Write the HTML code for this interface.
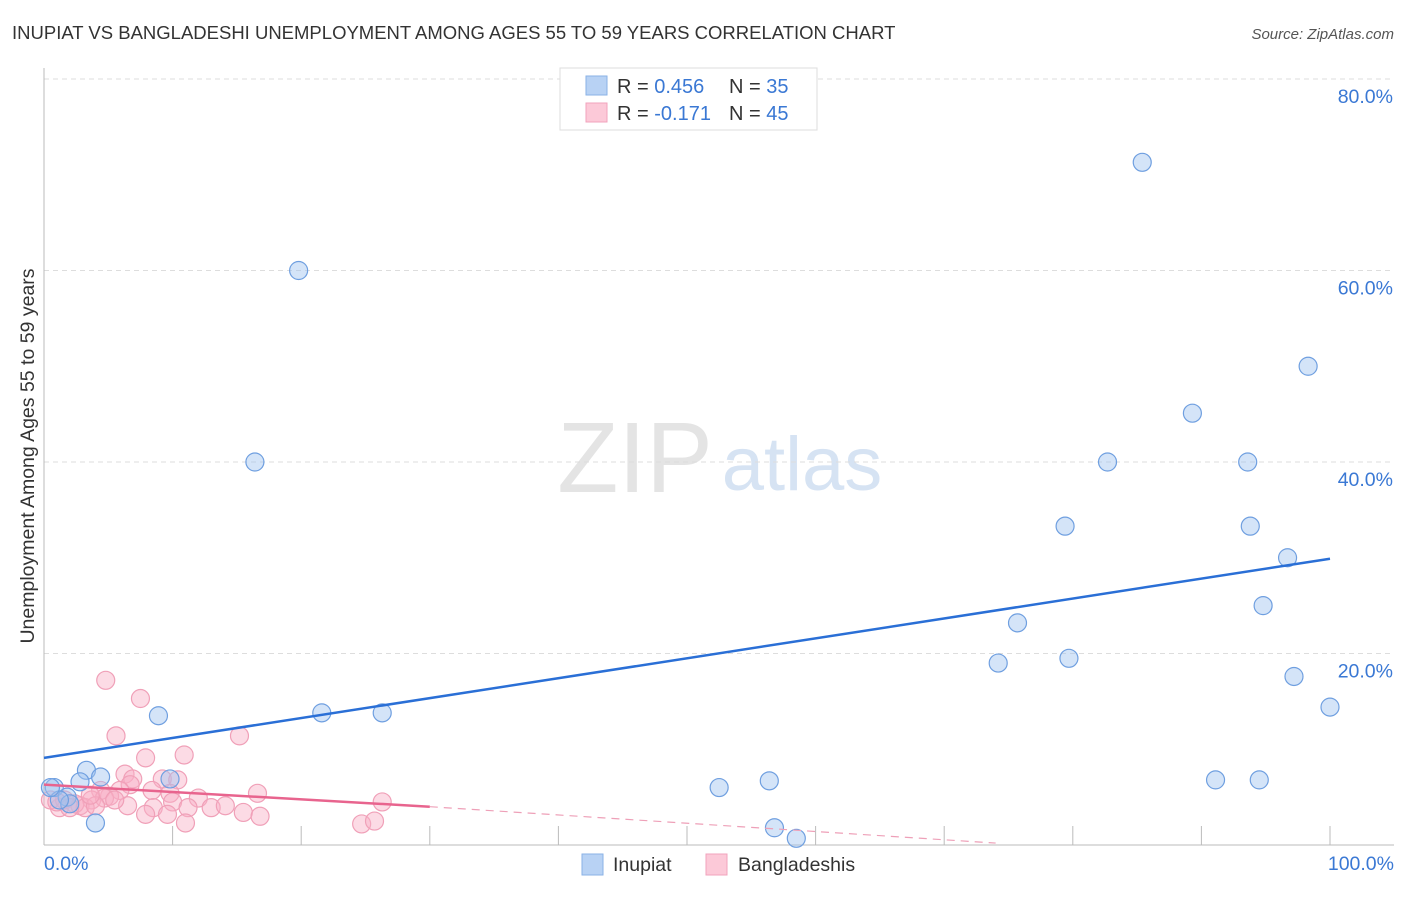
<!DOCTYPE html>
<html><head><meta charset="utf-8"><style>
body{margin:0;background:#fff;font-family:"Liberation Sans",sans-serif}
svg text{font-family:"Liberation Sans",sans-serif}
</style></head><body>
<svg id="c" width="1406" height="892" xmlns="http://www.w3.org/2000/svg">
<text x="12" y="39" font-size="18.5" fill="#333">INUPIAT VS BANGLADESHI UNEMPLOYMENT AMONG AGES 55 TO 59 YEARS CORRELATION CHART</text>
<text x="1394" y="39" font-size="15" fill="#555" font-style="italic" text-anchor="end">Source: ZipAtlas.com</text>
<g><text x="635" y="492" font-size="100" fill="#e4e4e4" text-anchor="middle" font-family="Liberation Serif">ZIP</text><text x="802" y="490" font-size="76" fill="#d6e3f3" text-anchor="middle">atlas</text></g>
<g id="grid"></g><g id="axes"></g><g id="marks"></g>
<text transform="translate(34,456) rotate(-90)" font-size="19.5" fill="#333" text-anchor="middle">Unemployment Among Ages 55 to 59 years</text>
<g>
<rect x="560" y="68" width="257" height="62" fill="#fff" stroke="#ddd"/>
<rect x="586" y="76" width="21" height="19" fill="#b8d2f4" stroke="#8ab2e6"/>
<rect x="586" y="103" width="21" height="19" fill="#fcc9d8" stroke="#f2a3bc"/>
<text x="617" y="93" font-size="20" fill="#333">R = <tspan fill="#3a78d4">0.456</tspan></text>
<text x="729" y="93" font-size="20" fill="#333">N = <tspan fill="#3a78d4">35</tspan></text>
<text x="617" y="120" font-size="20" fill="#333">R = <tspan fill="#3a78d4">-0.171</tspan></text>
<text x="729" y="120" font-size="20" fill="#333">N = <tspan fill="#3a78d4">45</tspan></text>
</g>
<g>
<rect x="582" y="854" width="21" height="21" fill="#b8d2f4" stroke="#8ab2e6"/>
<text x="613" y="871" font-size="19.5" fill="#333">Inupiat</text>
<rect x="706" y="854" width="21" height="21" fill="#fcc9d8" stroke="#f2a3bc"/>
<text x="738" y="871" font-size="19.5" fill="#333">Bangladeshis</text>
</g>
</svg>
<script>
const yTicks=[20,40,60,80];
const yTickLabels=["20.0%","40.0%","60.0%","80.0%"];
const xTicks=[0,10,20,30,40,50,60,70,80,90,100];
const inupiatX=[19.8,16.4,85.4,98.3,89.3,82.7,93.6,79.4,93.8,96.7,94.8,75.7,74.2,79.7,97.2,100,8.9,21.6,26.3,52.5,56.4,91.1,94.5,56.8,58.5,9.8,3.3,4.4,2.8,4.0,0.8,1.8,2.0,1.2,0.5];
const inupiatY=[60,40,71.3,50,45.1,40,40,33.3,33.3,30,25,23.2,19,19.5,17.6,14.4,13.5,13.8,13.8,6,6.7,6.8,6.8,1.8,0.7,6.9,7.8,7.1,6.6,2.3,6,5,4.3,4.7,6];
const bangX=[4.8,7.5,5.6,15.2,7.9,10.9,6.3,6.9,9.2,10.4,6.7,5.9,8.4,9.8,16.6,5.1,4.4,3.7,12,10,6.5,8.5,11.2,13,14.1,15.5,16.8,7.9,9.6,11,24.7,25.7,26.3,4.7,2.8,1.2,0.5,1.6,2.4,3.2,4,1,2,3.6,5.5];
const bangY=[17.2,15.3,11.4,11.4,9.1,9.4,7.4,6.9,6.9,6.8,6.3,5.7,5.7,5.4,5.4,5.1,5.7,4.7,4.9,4.5,4.1,3.9,3.9,3.9,4.1,3.4,3,3.2,3.2,2.3,2.2,2.5,4.5,4.9,4.1,3.9,4.7,4.7,4.3,3.9,4.1,4.5,3.9,5.2,4.7];
const inupiatTrend=[[0,9.1],[100,29.9]];
const bangTrendSolid=[[0,6.3],[30,4.0]];
const bangTrendDash=[[30,4.0],[74,0.2]];
const NS="http://www.w3.org/2000/svg";
const X0=44,X1=1330,Y0=845,Y80=79;
const sx=v=>X0+(X1-X0)*v/100;
const sy=v=>Y0-(Y0-Y80)*v/80;
function mk(tag,attrs,parent){const e=document.createElementNS(NS,tag);for(const k in attrs)e.setAttribute(k,attrs[k]);parent.appendChild(e);return e;}
const grid=document.getElementById('grid'),axes=document.getElementById('axes'),marks=document.getElementById('marks');
yTicks.forEach((t,i)=>{
 const l=mk('line',{x1:X0,x2:1394,y1:sy(t),y2:sy(t),stroke:'#ddd','stroke-dasharray':'5,4'},grid);
 
 
 const tx=mk('text',{x:1393,y:sy(t)+24,'font-size':19.5,fill:'#3a78d4','text-anchor':'end'},axes);
 tx.textContent=yTickLabels[i];
 
 
});
let a=mk('line',{x1:X0,x2:X0,y1:68,y2:Y0,stroke:'#bbb'},axes);


a=mk('line',{x1:X0,x2:1394,y1:Y0,y2:Y0,stroke:'#bbb'},axes);


xTicks.forEach(t=>{
 const l=mk('line',{x1:sx(t),x2:sx(t),y1:Y0,y2:Y0-19,stroke:'#bbb'},axes);
 
 
});
let t=mk('text',{x:44,y:870,'font-size':19.5,fill:'#3a78d4'},axes);t.textContent='0.0%';


t=mk('text',{x:1394,y:870,'font-size':19.5,fill:'#3a78d4','text-anchor':'end'},axes);t.textContent='100.0%';


bangX.forEach((v,i)=>{
 const c=mk('circle',{cx:sx(v),cy:sy(bangY[i]),r:9,fill:'rgba(248,176,198,0.45)',stroke:'#f0a0b8','stroke-width':1.2},marks);
 
 
});
inupiatX.forEach((v,i)=>{
 const c=mk('circle',{cx:sx(v),cy:sy(inupiatY[i]),r:9,fill:'rgba(160,196,240,0.45)',stroke:'#6f9fe0','stroke-width':1.2},marks);
 
 
});
let ln=mk('line',{x1:sx(inupiatTrend[0][0]),y1:sy(inupiatTrend[0][1]),x2:sx(inupiatTrend[1][0]),y2:sy(inupiatTrend[1][1]),stroke:'#2a6fd6','stroke-width':2.5},marks);


ln=mk('line',{x1:sx(bangTrendSolid[0][0]),y1:sy(bangTrendSolid[0][1]),x2:sx(bangTrendSolid[1][0]),y2:sy(bangTrendSolid[1][1]),stroke:'#e8648e','stroke-width':2.5},marks);


ln=mk('line',{x1:sx(bangTrendDash[0][0]),y1:sy(bangTrendDash[0][1]),x2:sx(bangTrendDash[1][0]),y2:sy(bangTrendDash[1][1]),stroke:'#eea0b8','stroke-width':1.2,'stroke-dasharray':'8,6'},marks);


</script>
</body></html>
